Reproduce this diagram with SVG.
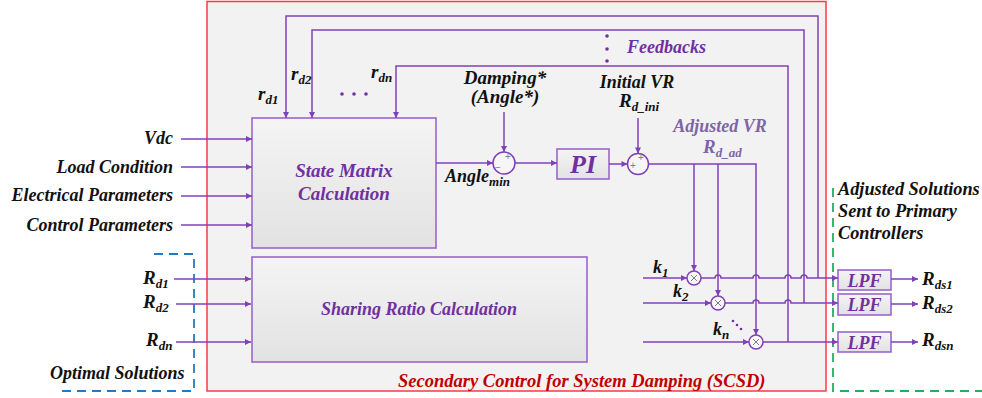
<svg xmlns="http://www.w3.org/2000/svg" width="982" height="398" viewBox="0 0 982 398">
<style>
.t{font-family:"Liberation Serif","Times New Roman",serif;font-weight:bold;font-style:italic;fill:#111}
.p{fill:#7030a0}
.g{fill:#7e64a8}
.ln{fill:none;stroke:#8040b8;stroke-width:1.5}
.box{stroke:#9a66cc;stroke-width:1.6}
.sg{font-family:"Liberation Sans",Arial,sans-serif;fill:#808080;font-size:10px}
</style>
<defs>
<linearGradient id="bg" x1="0" y1="0" x2="0" y2="1">
<stop offset="0" stop-color="#f4f4f4"/><stop offset="1" stop-color="#e2e2e2"/>
</linearGradient>
<marker id="ah" viewBox="0 0 10 10" refX="10" refY="5" markerWidth="7" markerHeight="6" orient="auto" markerUnits="userSpaceOnUse">
<path d="M0,0 L10,5 L0,10 z" fill="#8040b8"/>
</marker>
</defs>
<rect width="982" height="398" fill="#fff"/>
<g id="scsd">
<rect x="207" y="1.5" width="619" height="389.5" fill="#f2f2f2" stroke="#ff3b3b" stroke-width="1.5"/>
<text class="t" x="398" y="387" font-size="18.5" style="fill:#c00000">Secondary Control for System Damping (SCSD)</text>
</g>
<g id="optimal" fill="none" stroke="#1f7ac8" stroke-width="1.8" stroke-dasharray="9,6">
<path d="M154,254 H194 V391 H62"/>
</g>
<text class="t" x="50" y="379" font-size="18">Optimal Solutions</text>
<g id="primary" fill="none" stroke="#22b060" stroke-width="1.8" stroke-dasharray="9,6">
<path d="M833,188 V391 H982"/>
</g>
<g id="primary-label" class="t" font-size="18.3">
<text x="838" y="195">Adjusted Solutions</text>
<text x="838" y="217">Sent to Primary</text>
<text x="838" y="239">Controllers</text>
</g>
<g id="state-matrix">
<rect class="box" x="252" y="118" width="184" height="130" fill="url(#bg)"/>
<text class="t p" x="344" y="177" font-size="19" text-anchor="middle">State Matrix</text>
<text class="t p" x="344" y="200" font-size="19" text-anchor="middle">Calculation</text>
</g>
<g id="sharing-ratio">
<rect class="box" x="252" y="257" width="335" height="105" fill="url(#bg)"/>
<text class="t p" x="419" y="315" font-size="18" text-anchor="middle">Sharing Ratio Calculation</text>
</g>
<g id="sum1">
<circle cx="504" cy="163" r="11" fill="#f6f6f6" stroke="#8040b8" stroke-width="1.5"/>
<text class="sg" x="505" y="160">+</text>
<text class="sg" x="495" y="171">−</text>
</g>
<g id="pi">
<rect class="box" x="557" y="149" width="52" height="30" fill="url(#bg)"/>
<text class="t p" x="583" y="173" font-size="26" text-anchor="middle">PI</text>
</g>
<g id="sum2">
<circle cx="638" cy="164" r="10.5" fill="#f6f6f6" stroke="#8040b8" stroke-width="1.5"/>
<text class="sg" x="638" y="161">+</text>
<text class="sg" x="630" y="169">+</text>
</g>
<g id="mult1">
<circle cx="694" cy="278" r="7" fill="#f6f6f6" stroke="#8040b8" stroke-width="1.5"/>
<path d="M691,275 L697,281 M697,275 L691,281" stroke="#808080" stroke-width="1"/>
</g>
<g id="mult2">
<circle cx="718" cy="303" r="7" fill="#f6f6f6" stroke="#8040b8" stroke-width="1.5"/>
<path d="M715,300 L721,306 M721,300 L715,306" stroke="#808080" stroke-width="1"/>
</g>
<g id="multn">
<circle cx="756" cy="342" r="7" fill="#f6f6f6" stroke="#8040b8" stroke-width="1.5"/>
<path d="M753,339 L759,345 M759,339 L753,345" stroke="#808080" stroke-width="1"/>
</g>
<g id="lpf1">
<rect class="box" x="838" y="270" width="53" height="20" fill="url(#bg)"/>
<text class="t p" x="864.5" y="287" font-size="18" text-anchor="middle">LPF</text>
</g>
<g id="lpf2">
<rect class="box" x="838" y="294" width="53" height="21" fill="url(#bg)"/>
<text class="t p" x="864.5" y="311" font-size="18" text-anchor="middle">LPF</text>
</g>
<g id="lpfn">
<rect class="box" x="838" y="332" width="53" height="20" fill="url(#bg)"/>
<text class="t p" x="864.5" y="349" font-size="18" text-anchor="middle">LPF</text>
</g>
<g id="connectors" class="ln">
<path d="M181,139 H252" marker-end="url(#ah)"/>
<path d="M181,167 H252" marker-end="url(#ah)"/>
<path d="M181,196 H252" marker-end="url(#ah)"/>
<path d="M181,225 H252" marker-end="url(#ah)"/>
<path d="M174,279 H251" marker-end="url(#ah)"/>
<path d="M176,304 H251" marker-end="url(#ah)"/>
<path d="M176,342 H251" marker-end="url(#ah)"/>
<path d="M436,163 H493" marker-end="url(#ah)"/>
<path d="M504,112 V152" marker-end="url(#ah)"/>
<path d="M515,163 H557" marker-end="url(#ah)"/>
<path d="M609,164 H627.5" marker-end="url(#ah)"/>
<path d="M638,118 V153.5" marker-end="url(#ah)"/>
<path d="M648.5,164 H756 V335"  marker-end="url(#ah)"/>
<path d="M694,164 V271" marker-end="url(#ah)"/>
<path d="M718,164 V296" marker-end="url(#ah)"/>
<path d="M643,278 H687" marker-end="url(#ah)"/>
<path d="M643,303 H711" marker-end="url(#ah)"/>
<path d="M643,342 H749" marker-end="url(#ah)"/>
<path d="M701,278 H715 a3,3 0 0 1 6,0 H753 a3,3 0 0 1 6,0 H785 a3,3 0 0 1 6,0 H801 a3,3 0 0 1 6,0 H838" marker-end="url(#ah)"/>
<path d="M725,303 H753 a3,3 0 0 1 6,0 H785 a3,3 0 0 1 6,0 H838" marker-end="url(#ah)"/>
<path d="M763,342 H838" marker-end="url(#ah)"/>
<path d="M818,278 V16 H286 V118" marker-end="url(#ah)"/>
<path d="M804,303 V30 H312 V118" marker-end="url(#ah)"/>
<path d="M788,342 V66 H396 V118" marker-end="url(#ah)"/>
<path d="M891,279 H918" marker-end="url(#ah)"/>
<path d="M891,304 H918" marker-end="url(#ah)"/>
<path d="M891,342 H918" marker-end="url(#ah)"/>
</g>
<g id="labels" class="t" font-size="18">
<text x="173" y="144" text-anchor="end">Vdc</text>
<text x="173" y="173" text-anchor="end">Load Condition</text>
<text x="173" y="201" text-anchor="end">Electrical Parameters</text>
<text x="173" y="231" text-anchor="end">Control Parameters</text>
<text x="143" y="284" font-size="19">R<tspan font-size="13" dy="4">d1</tspan></text>
<text x="143" y="308" font-size="19">R<tspan font-size="13" dy="4">d2</tspan></text>
<text x="146" y="346" font-size="19">R<tspan font-size="13" dy="4">dn</tspan></text>
<text x="258" y="100" font-size="19">r<tspan font-size="13" dy="4">d1</tspan></text>
<text x="291" y="80" font-size="19">r<tspan font-size="13" dy="4">d2</tspan></text>
<text x="371" y="78" font-size="19">r<tspan font-size="13" dy="4">dn</tspan></text>
<text x="505" y="84" text-anchor="middle" font-size="19">Damping*</text>
<text x="505" y="103" text-anchor="middle" font-size="19">(Angle*)</text>
<text x="445" y="182">Angle<tspan font-size="13" dy="4">min</tspan></text>
<text x="637" y="88" text-anchor="middle">Initial VR</text>
<text x="619" y="107" font-size="19">R<tspan font-size="13" dy="4">d_ini</tspan></text>
<text class="p" x="627" y="53">Feedbacks</text>
<text class="g" x="720" y="132" text-anchor="middle">Adjusted VR</text>
<text class="g" x="703" y="153" font-size="19">R<tspan font-size="13" dy="4">d_ad</tspan></text>
<text x="653" y="273">k<tspan font-size="13" dy="4">1</tspan></text>
<text x="673" y="297">k<tspan font-size="13" dy="4">2</tspan></text>
<text x="713" y="335">k<tspan font-size="13" dy="4">n</tspan></text>
<text x="922" y="285" font-size="19">R<tspan font-size="13" dy="4">ds1</tspan></text>
<text x="922" y="309" font-size="19">R<tspan font-size="13" dy="4">ds2</tspan></text>
<text x="922" y="346" font-size="19">R<tspan font-size="13" dy="4">dsn</tspan></text>
</g>
<g id="dots" fill="#7030a0">
<circle cx="607" cy="36" r="1.8"/><circle cx="607" cy="49" r="1.8"/><circle cx="607" cy="61" r="1.8"/>
<circle cx="342" cy="94" r="1.8"/><circle cx="354" cy="94" r="1.8"/><circle cx="366" cy="94" r="1.8"/>
<circle cx="733" cy="321" r="1.3"/><circle cx="737" cy="325" r="1.3"/><circle cx="741" cy="329" r="1.3"/>
</g>
</svg>
